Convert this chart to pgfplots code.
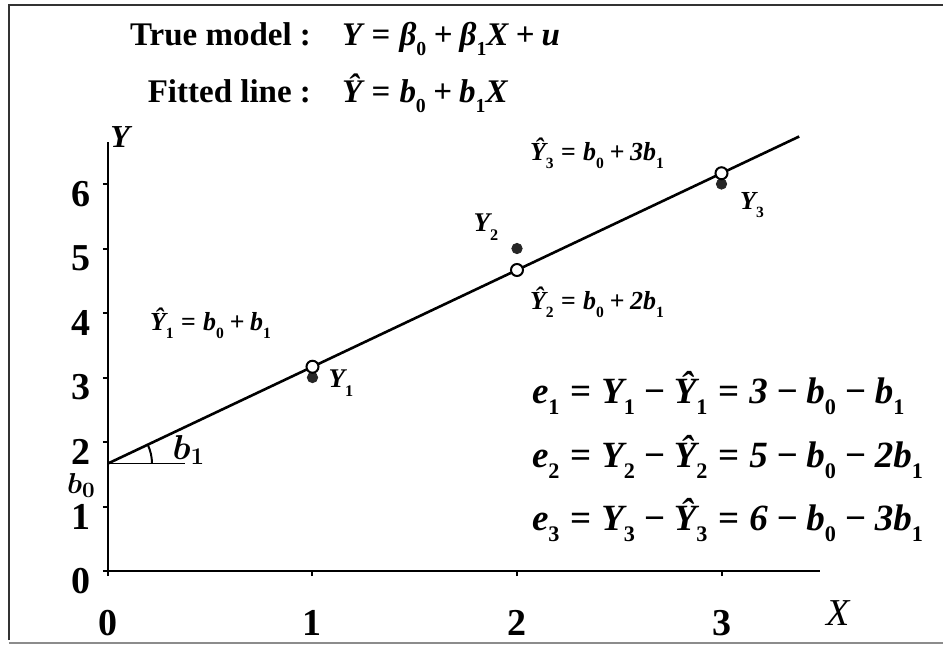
\documentclass[border=0pt]{standalone}
\usepackage{fontspec}
\setmainfont{Liberation Serif}
\usepackage{pgfplots}
\pgfplotsset{compat=1.18}

% bold italic formula pieces
\newcommand{\fm}{\bfseries\itshape}
\newcommand{\s}[1]{\raisebox{-0.32em}{\scalebox{0.6}{\upshape #1}}}
\newcommand{\hY}{\^{Y}}
\newcommand{\eq}{\hspace{.28em}=\hspace{.28em}}
\newcommand{\pl}{\hspace{.22em}+\hspace{.22em}}
\newcommand{\mi}{\hspace{.22em}−\hspace{.22em}}
\newcommand{\fs}[1]{\fontsize{#1}{#1}\selectfont}

\begin{document}
\begin{tikzpicture}
\begin{axis}[
  x=102.25pt, y=32.25pt,
  xmin=0, xmax=3.48, ymin=0, ymax=6.65,
  axis lines=left,
  axis line style={-, line width=1.2pt},
  clip=false,
  xtick={0,1,2,3}, ytick={0,1,2,3,4,5,6},
  tick align=outside, major tick length=2.5pt,
  tick style={line width=1pt, black},
  /pgf/number format/assume math mode=true,
  xticklabel style={font=\fs{19}\bfseries, anchor=north, inner sep=0pt, yshift=-17pt},
  yticklabel style={font=\fs{19}\bfseries, anchor=east, inner sep=0pt, xshift=-6pt, yshift=-5pt},
]
% page extent and frame
\path[use as bounding box] (axis cs:-0.528,-1.194) rectangle (axis cs:4.083,8.853);
\draw[line width=1.2pt, black!80] (axis cs:-0.484,-1.07) -- (axis cs:-0.484,8.775) -- (axis cs:4.083,8.775);
\draw[line width=0.8pt, black!45] (axis cs:-0.484,-1.12) -- (axis cs:4.083,-1.12);

% fitted line  Y^ = b0 + b1 X
\addplot[black, line width=1.3pt] coordinates {(0,1.667) (3.38,6.737)};

% intercept marker and slope angle
\draw[line width=0.9pt] (axis cs:0,1.667) -- (axis cs:0.377,1.667);
\draw[line width=1pt] (axis cs:0,1.667) ++(0:22pt) arc (0:25.3:22pt);

% observed values
\addplot[only marks, mark=*, mark size=2.6pt, black!85] coordinates {(1,3) (2,5) (3,6)};
% fitted values
\addplot[only marks, mark=*, mark size=3pt, mark options={fill=white, draw=black, line width=1pt}]
  coordinates {(1,3.167) (2,4.667) (3,6.167)};

% title lines
\node[anchor=base east, font=\fs{16.5}\bfseries] at (axis cs:1.027,8.155) {True model :};
\node[anchor=base west, font=\fs{16.5}\fm] at (axis cs:1.110,8.155) {Y\eq β\s{0}\pl β\s{1}X\pl u};
\node[anchor=base east, font=\fs{16.5}\bfseries] at (axis cs:1.027,7.271) {Fitted line :};
\node[anchor=base west, font=\fs{16.5}\fm] at (axis cs:1.110,7.271) {\hY\eq b\s{0}\pl b\s{1}X};

% point annotations
\node[anchor=west, font=\fs{13}\fm] at (axis cs:2.029,6.48) {\hY\s{3}\eq b\s{0}\pl 3b\s{1}};
\node[font=\fs{13.5}\fm] at (axis cs:1.848,5.333) {Y\s{2}};
\node[anchor=west, font=\fs{13}\fm] at (axis cs:2.029,4.171) {\hY\s{2}\eq b\s{0}\pl 2b\s{1}};
\node[anchor=west, font=\fs{13}\fm] at (axis cs:0.171,3.845) {\hY\s{1}\eq b\s{0}\pl b\s{1}};
\node[font=\fs{13.5}\fm] at (axis cs:1.139,2.915) {Y\s{1}};
\node[font=\fs{13}\fm] at (axis cs:3.149,5.674) {Y\s{3}};

% residuals
\node[anchor=base west, font=\fs{18.5}\fm] at (axis cs:2.039,2.605) {e\s{1}\eq Y\s{1}\mi \hY\s{1}\eq 3\mi b\s{0}\mi b\s{1}};
\node[anchor=base west, font=\fs{18.5}\fm] at (axis cs:2.039,1.612) {e\s{2}\eq Y\s{2}\mi \hY\s{2}\eq 5\mi b\s{0}\mi 2b\s{1}};
\node[anchor=base west, font=\fs{18.5}\fm] at (axis cs:2.039,0.636) {e\s{3}\eq Y\s{3}\mi \hY\s{3}\eq 6\mi b\s{0}\mi 3b\s{1}};

% axis names and intercept / slope labels
\node[font=\fs{19}\itshape] at (axis cs:3.57,-0.651) {X};
\node[font=\fs{16}\fm] at (axis cs:0.059,6.73) {Y};
\node[font=\fs{18}\boldmath] at (axis cs:0.396,1.876) {$b_1$};
\node[font=\fs{15}\boldmath, inner sep=0pt] at (axis cs:-0.13,1.33) {$b_0$};
\end{axis}
\end{tikzpicture}
\end{document}
